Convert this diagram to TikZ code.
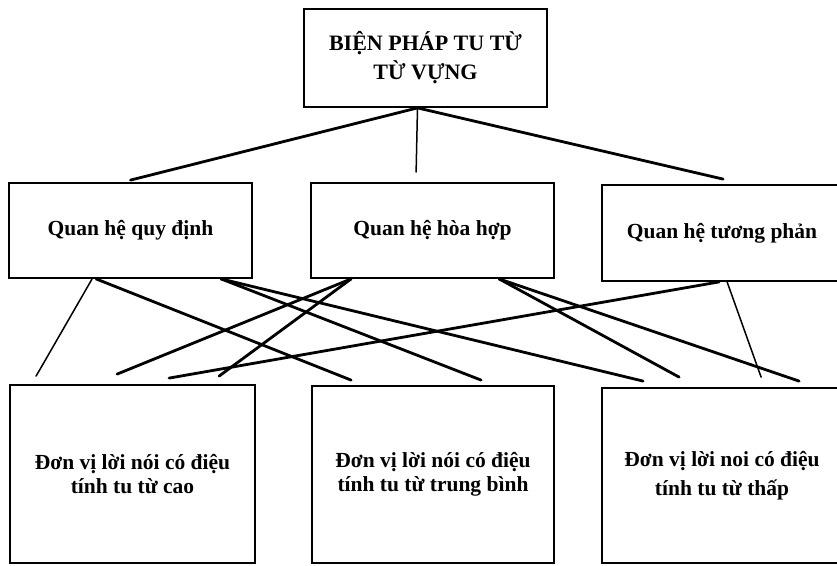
\documentclass[tikz,border=0pt]{standalone}
\usepackage{fontspec}
\setmainfont{Liberation Serif}
\begin{document}
\begin{tikzpicture}[x=1pt,y=-1pt,
  box/.style={draw,line width=1.8pt,rectangle,inner sep=0pt,align=center},
  midtxt/.style={font=\bfseries\fontsize{21.5}{26}\selectfont},
  thick line/.style={line width=2.8pt,line cap=round},
  thin line/.style={line width=1.5pt,line cap=round}]
\useasboundingbox (0,0) rectangle (837,565);
% boxes
\node[box,minimum width=243pt,minimum height=98pt,font=\bfseries\fontsize{22}{29}\selectfont] (top) at (425.5,58) {BIỆN PHÁP TU TỪ\\TỪ VỰNG};
\node[box,midtxt,minimum width=243pt,minimum height=95pt] (qd) at (130.5,230.5) {Quan hệ quy định};
\node[box,midtxt,minimum width=243pt,minimum height=95pt] (qhh) at (432.5,230.5) {Quan hệ hòa hợp};
\node[box,midtxt,minimum width=240pt,minimum height=96pt] (tp) at (722,233) {Quan hệ tương phản};
\node[box,font=\bfseries\fontsize{21.5}{24}\selectfont,minimum width=245pt,minimum height=178pt] (b1) at (132.5,474) {Đơn vị lời nói có điệu\\tính tu từ cao};
\node[box,font=\bfseries\fontsize{21.5}{24}\selectfont,minimum width=242pt,minimum height=177pt] (b2) at (433,474.5) {Đơn vị lời nói có điệu\\tính tu từ trung bình};
\node[box,font=\bfseries\fontsize{21.5}{29}\selectfont,minimum width=240pt,minimum height=175pt] (b3) at (722,475.5) {Đơn vị lời noi có điệu\\tính tu từ thấp};
% top connectors
\draw[thick line] ([xshift=-8pt]top.south) -- ([yshift=2pt]qd.north);
\draw[thin line] ([xshift=-8pt]top.south) -- ([xshift=106pt,yshift=10pt]qhh.north west);
\draw[thick line] ([xshift=-8pt]top.south) -- ([xshift=122pt,yshift=5pt]tp.north west);
% cross connectors
\draw[thin line] ([xshift=84pt]qd.south west) -- ([xshift=27pt,yshift=8pt]b1.north west);
\draw[thick line] ([xshift=88pt]qd.south west) -- ([xshift=40pt,yshift=5pt]b2.north west);
\draw[thick line] ([xshift=213pt]qd.south west) -- ([xshift=170pt,yshift=5pt]b2.north west);
\draw[thick line] ([xshift=213pt]qd.south west) -- ([xshift=42pt,yshift=6pt]b3.north west);
\draw[thick line] ([xshift=41pt]qhh.south west) -- ([xshift=108pt,yshift=10pt]b1.north west);
\draw[thick line] ([xshift=41pt]qhh.south west) -- ([xshift=210pt,yshift=8pt]b1.north west);
\draw[thick line] ([xshift=189pt]qhh.south west) -- ([xshift=78pt,yshift=10pt]b3.north west);
\draw[thick line] ([xshift=189pt]qhh.south west) -- ([xshift=198pt,yshift=6pt]b3.north west);
\draw[thick line] ([xshift=118pt]tp.south west) -- ([xshift=160pt,yshift=6pt]b1.north west);
\draw[thin line] ([xshift=126pt]tp.south west) -- ([xshift=160pt,yshift=10pt]b3.north west);
\end{tikzpicture}
\end{document}
